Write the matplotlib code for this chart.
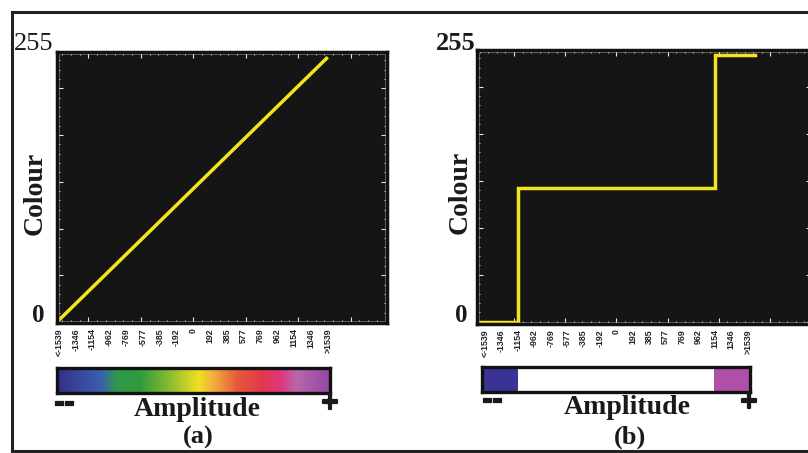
import matplotlib
matplotlib.use("Agg")
import matplotlib.pyplot as plt
import matplotlib.patheffects as pe
import numpy as np
from matplotlib.colors import LinearSegmentedColormap, ListedColormap, BoundaryNorm
from matplotlib.ticker import MultipleLocator
from matplotlib.lines import Line2D
from matplotlib.patches import Rectangle

# ---------------- data ----------------
amp_labels = ['<-1539', '-1346', '-1154', '-962', '-769', '-577', '-385', '-192', '0',
              '192', '385', '577', '769', '962', '1154', '1346', '>1539']
amp_positions = [-1539, -1346, -1154, -962, -769, -577, -385, -192, 0,
                 192, 385, 577, 769, 962, 1154, 1346, 1539]

line_a_x = [-1560, 1539]
line_a_y = [0, 255]

line_b_x = [-1620, -1154, -1154, 1154, 1154, 1620]
line_b_y = [0, 0, 128, 128, 255, 255]

cbar_a_stops = [0.0, 0.16, 0.22, 0.30, 0.40, 0.52, 0.58, 0.66, 0.75, 0.82, 0.88, 1.0]
cbar_a_colors = ['#34308a', '#3a5fb0', '#2f9a48', '#2e9a3e', '#7fb832', '#f0e020',
                 '#f2a840', '#e65a3a', '#e03a48', '#e03580', '#b868a8', '#9446a6']

cbar_b_bounds = [-1575, -1154, 1154, 1580]
cbar_b_colors = ['#3a3296', '#ffffff', '#b04fa8']

# ---------------- layout helpers ----------------
W, H = 808, 453
fig = plt.figure(figsize=(W / 100, H / 100), dpi=100)
fig.patch.set_facecolor('white')

def rect(x0, y0, x1, y1):
    return [x0 / W, 1 - y1 / H, (x1 - x0) / W, (y1 - y0) / H]

def ftext(x, y, s, **kw):
    return fig.text(x / W, 1 - y / H, s, **kw)

SERIF = ['Liberation Serif', 'DejaVu Serif']
SANS = ['DejaVu Sans']
LINE_COL = '#f2e51c'
BG = '#151515'
INK = '#1a1a1a'

def style_axes(ax, xlim, ylim):
    ax.set_facecolor(BG)
    ax.set_xlim(*xlim)
    ax.set_ylim(*ylim)
    for sp in ax.spines.values():
        sp.set_color('#111111')
        sp.set_linewidth(2.5)
    ax.xaxis.set_major_locator(MultipleLocator(600))
    ax.xaxis.set_minor_locator(MultipleLocator(100))
    ax.yaxis.set_major_locator(MultipleLocator(45))
    ax.yaxis.set_minor_locator(MultipleLocator(9))
    ax.tick_params(which='both', direction='in', colors='#e8e8e8',
                   top=True, right=True, labelbottom=False, labelleft=False,
                   pad=0)
    ax.tick_params(which='major', length=4, width=0.8)
    ax.tick_params(which='minor', length=2, width=0.6)
    ax.add_patch(Rectangle((0.006, 0.008), 0.988, 0.984, transform=ax.transAxes,
                           fill=False, ec='#9a9a9a', lw=0.5))
    # amplitude labels under the axes
    tr = ax.get_xaxis_transform()
    for p, s in zip(amp_positions, amp_labels):
        ax.text(p, -0.018, s, transform=tr, rotation=90, ha='center', va='top',
                fontsize=6.3, fontweight='bold', color='#222222',
                family=['Liberation Sans Narrow', 'Liberation Sans', 'DejaVu Sans'])

# ---------------- panel (a) ----------------
ax_a = fig.add_axes(rect(57, 52, 387, 323))
style_axes(ax_a, (-1560, 2217), (-1, 260))
ax_a.plot(line_a_x, line_a_y, color=LINE_COL, lw=2.5, solid_capstyle='butt')

cax_a = fig.add_axes(rect(57, 368, 330, 393))
cmap_a = LinearSegmentedColormap.from_list('amp', list(zip(cbar_a_stops, cbar_a_colors)))
grad = np.linspace(0, 1, 512).reshape(1, -1)
cax_a.imshow(grad, aspect='auto', cmap=cmap_a, extent=(0, 1, 0, 1))
cax_a.set_xticks([]); cax_a.set_yticks([])
for sp in cax_a.spines.values():
    sp.set_linewidth(2.4); sp.set_color('#111111')

# ---------------- panel (b) ----------------
ax_b = fig.add_axes(rect(477, 50, 812, 324))
style_axes(ax_b, (-1633, 2290), (-2, 260))
ax_b.plot(line_b_x, line_b_y, color=LINE_COL, lw=2.5, solid_joinstyle='miter')

cax_b = fig.add_axes(rect(482, 367, 750, 392))
cmap_b = ListedColormap(cbar_b_colors)
norm_b = BoundaryNorm(cbar_b_bounds, cmap_b.N)
xx = np.array(cbar_b_bounds, dtype=float)
vals = np.array([[(cbar_b_bounds[i] + cbar_b_bounds[i + 1]) / 2 for i in range(3)]])
cax_b.pcolormesh(xx, [0, 1], vals, cmap=cmap_b, norm=norm_b)
cax_b.set_xlim(cbar_b_bounds[0], cbar_b_bounds[-1])
cax_b.set_xticks([]); cax_b.set_yticks([])
for sp in cax_b.spines.values():
    sp.set_linewidth(2.4); sp.set_color('#111111')

# ---------------- texts ----------------
txt = dict(family=SERIF, color=INK, fontweight='bold')
heavy = [pe.withStroke(linewidth=1.6, foreground=INK)]
light = [pe.withStroke(linewidth=0.9, foreground=INK)]
sym = dict(family=SANS, color=INK, fontweight='bold', path_effects=heavy)
dash = dict(family=SANS, color=INK, fontweight='bold', path_effects=light)
ftext(34, 44, '255', fontsize=19, ha='center', va='center', family=SERIF, color=INK)
ftext(38, 315, '0', fontsize=18, ha='center', va='center', **txt)
ftext(35, 193, 'Colour', fontsize=20, rotation=90, ha='center', va='center', **txt)
ftext(64, 403, '--', fontsize=18, ha='center', va='center', **dash)
ftext(330, 402, '+', fontsize=17, ha='center', va='center', **sym)
ftext(197, 410, 'Amplitude', fontsize=20, ha='center', va='center', **txt)
ftext(198, 437, '(a)', fontsize=19, ha='center', va='center', **txt)

ftext(456, 44, '255', fontsize=19, ha='center', va='center', **txt)
ftext(461, 316, '0', fontsize=18, ha='center', va='center', **txt)
ftext(460, 192, 'Colour', fontsize=20, rotation=90, ha='center', va='center', **txt)
ftext(492, 400, '--', fontsize=18, ha='center', va='center', **dash)
ftext(749, 401, '+', fontsize=17, ha='center', va='center', **sym)
ftext(627, 408, 'Amplitude', fontsize=20, ha='center', va='center', **txt)
ftext(630, 437, '(b)', fontsize=19, ha='center', va='center', **txt)

# ---------------- outer frame ----------------
def fline(x0, y0, x1, y1):
    fig.add_artist(Line2D([x0 / W, x1 / W], [1 - y0 / H, 1 - y1 / H],
                          color='#222222', lw=2.2, transform=fig.transFigure))

fline(12, 12, 812, 12)
fline(12, 12, 12, 451)
fline(12, 451, 812, 451)

fig.savefig('out.png', dpi=100, facecolor='white')
